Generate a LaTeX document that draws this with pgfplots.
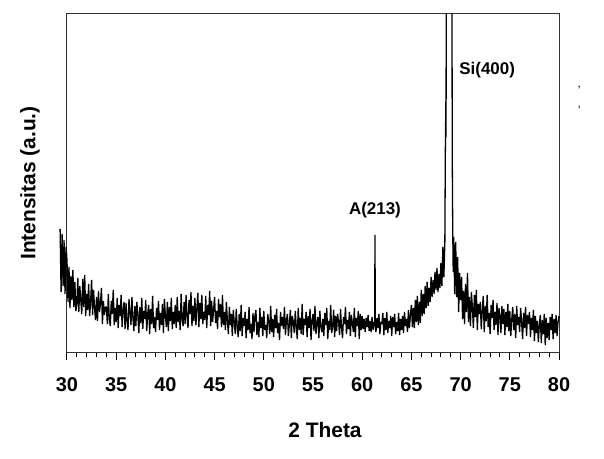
\documentclass[border=0pt]{standalone}
\usepackage{pgfplots}
\pgfplotsset{compat=1.18}
\usepackage{fontspec}
\setmainfont{Liberation Sans}
\usetikzlibrary{calc}
\begin{document}
\begin{tikzpicture}
\begin{axis}[name=ax,
  width=492bp, height=338bp, scale only axis,
  xmin=30, xmax=80, ymin=0, ymax=338,
  xtick={30,35,...,80}, minor x tick num=4,
  xtick pos=left, tick align=outside,
  ytick=\empty,
  major tick length=8bp, minor tick length=5bp,
  every tick/.style={black, line width=1bp},
  axis line style={black!80, line width=1bp},
  clip=false,
  /pgf/number format/assume math mode=true,
  xticklabel style={font=\bfseries\fontsize{20}{20}\selectfont, yshift=-14bp},
  xlabel={2 Theta}, ylabel={Intensitas (a.u.)},
  every axis x label/.style={at={(axis description cs:0.5,0)}, anchor=center, yshift=-78bp, xshift=12bp, font=\bfseries\fontsize{21}{21}\selectfont},
  every axis y label/.style={at={(axis description cs:0,0.5)}, rotate=90, anchor=center, yshift=37bp, font=\bfseries\fontsize{21}{21}\selectfont},
]
\begin{scope}
\clip (axis cs:29,0) rectangle (axis cs:80.5,338);
\addplot[black, line width=1.3bp, line join=bevel] coordinates {
(29.3,123) (29.4,60) (29.5,118) (29.6,66) (29.7,112) (29.8,58) (29.9,105)
(30.0,92) (30.1,50) (30.2,85) (30.3,44) (30.4,76) (30.5,52) (30.6,82) (30.7,45) (30.8,70) (30.9,41)
(31.0,48) (31.1,74) (31.2,40) (31.3,66) (31.4,52) (31.5,38) (31.6,73) (31.7,45) (31.8,77) (31.9,36)
(32.0,58) (32.1,42) (32.2,68) (32.3,36) (32.4,50) (32.5,72) (32.6,37) (32.7,62) (32.8,44) (32.9,32)
(33.0,55) (33.1,31) (33.2,61) (33.3,40) (33.4,48) (33.5,64) (33.6,28) (33.7,51) (33.8,37) (33.9,45)
(34.0,45) (34.1,28) (34.2,58) (34.3,33) (34.4,26) (34.5,51) (34.6,38) (34.7,62) (34.8,27) (34.9,44)
(35.0,30) (35.1,54) (35.2,24) (35.3,47) (35.4,36) (35.5,57) (35.6,25) (35.7,42) (35.8,50) (35.9,23)
(36.0,49) (36.1,31) (36.2,22) (36.3,53) (36.4,40) (36.5,27) (36.6,55) (36.7,34) (36.8,21) (36.9,46)
(37.0,26) (37.1,50) (37.2,37) (37.3,19) (37.4,45) (37.5,29) (37.6,54) (37.7,23) (37.8,41) (37.9,33)
(38.0,52) (38.1,21) (38.2,38) (38.3,47) (38.4,18) (38.5,43) (38.6,28) (38.7,56) (38.8,24) (38.9,35)
(39.0,20) (39.1,44) (39.2,32) (39.3,51) (39.4,22) (39.5,39) (39.6,27) (39.7,48) (39.8,19) (39.9,53)
(40.0,36) (40.1,25) (40.2,50) (40.3,21) (40.4,45) (40.5,31) (40.6,54) (40.7,23) (40.8,40) (40.9,28)
(41.0,47) (41.1,24) (41.2,55) (41.3,30) (41.4,41) (41.5,22) (41.6,58) (41.7,33) (41.8,26) (41.9,50)
(42.0,28) (42.1,57) (42.2,35) (42.3,24) (42.4,52) (42.5,38) (42.6,60) (42.7,26) (42.8,46) (42.9,31)
(43.0,54) (43.1,27) (43.2,44) (43.3,59) (43.4,25) (43.5,49) (43.6,33) (43.7,57) (43.8,28) (43.9,40)
(44.0,32) (44.1,56) (44.2,24) (44.3,47) (44.4,37) (44.5,61) (44.6,26) (44.7,51) (44.8,30) (44.9,43)
(45.0,55) (45.1,29) (45.2,41) (45.3,23) (45.4,53) (45.5,35) (45.6,48) (45.7,25) (45.8,57) (45.9,27)
(46.0,40) (46.1,22) (46.2,50) (46.3,31) (46.4,18) (46.5,45) (46.6,27) (46.7,38) (46.8,16) (46.9,42)
(47.0,30) (47.1,18) (47.2,43) (47.3,25) (47.4,15) (47.5,38) (47.6,21) (47.7,47) (47.8,16) (47.9,34)
(48.0,26) (48.1,40) (48.2,14) (48.3,33) (48.4,22) (48.5,45) (48.6,19) (48.7,28) (48.8,13) (48.9,39)
(49.0,20) (49.1,36) (49.2,42) (49.3,17) (49.4,30) (49.5,15) (49.6,44) (49.7,24) (49.8,35) (49.9,16)
(50.0,41) (50.1,22) (50.2,27) (50.3,14) (50.4,38) (50.5,31) (50.6,18) (50.7,46) (50.8,20) (50.9,33)
(51.0,15) (51.1,37) (51.2,24) (51.3,43) (51.4,19) (51.5,29) (51.6,12) (51.7,40) (51.8,26) (51.9,35)
(52.0,23) (52.1,45) (52.2,17) (52.3,32) (52.4,38) (52.5,16) (52.6,28) (52.7,42) (52.8,14) (52.9,36)
(53.0,30) (53.1,19) (53.2,41) (53.3,25) (53.4,13) (53.5,44) (53.6,22) (53.7,34) (53.8,18) (53.9,48)
(54.0,17) (54.1,33) (54.2,27) (54.3,40) (54.4,15) (54.5,36) (54.6,24) (54.7,43) (54.8,12) (54.9,31)
(55.0,38) (55.1,21) (55.2,46) (55.3,18) (55.4,29) (55.5,35) (55.6,14) (55.7,41) (55.8,25) (55.9,20)
(56.0,33) (56.1,16) (56.2,39) (56.3,27) (56.4,44) (56.5,13) (56.6,31) (56.7,22) (56.8,47) (56.9,19)
(57.0,26) (57.1,42) (57.2,15) (57.3,36) (57.4,21) (57.5,38) (57.6,30) (57.7,17) (57.8,43) (57.9,24)
(58.0,14) (58.1,35) (58.2,28) (58.3,45) (58.4,18) (58.5,32) (58.6,23) (58.7,40) (58.8,16) (58.9,37)
(59.0,29) (59.1,20) (59.2,44) (59.3,15) (59.4,34) (59.5,26) (59.6,41) (59.7,13) (59.8,38) (59.9,22)
(60.0,36) (60.1,23) (60.2,33) (60.3,20) (60.4,34) (60.5,25) (60.6,37) (60.7,21) (60.8,31) (60.9,20)
(61.0,35) (61.1,22) (61.2,30) (61.27,26) (61.3,117) (61.33,24) (61.4,20) (61.5,34) (61.6,24) (61.7,38) (61.8,18) (61.9,30)
(62.0,28) (62.1,39) (62.2,17) (62.3,34) (62.4,22) (62.5,40) (62.6,19) (62.7,31) (62.8,24) (62.9,36)
(63.0,16) (63.1,35) (63.2,25) (63.3,38) (63.4,18) (63.5,30) (63.6,21) (63.7,39) (63.8,17) (63.9,33)
(64.0,22) (64.1,36) (64.2,19) (64.3,40) (64.4,26) (64.5,33) (64.6,20) (64.7,42) (64.8,24) (64.9,37)
(65.0,47) (65.1,25) (65.2,44) (65.3,24) (65.4,52) (65.5,30) (65.6,56) (65.7,27) (65.8,50) (65.9,29)
(66.0,62) (66.1,36) (66.2,58) (66.3,38) (66.4,66) (66.5,44) (66.6,70) (66.7,46) (66.8,64) (66.9,50)
(67.0,75) (67.1,55) (67.2,72) (67.3,58) (67.4,80) (67.5,62) (67.6,84) (67.7,60) (67.8,78) (67.9,64)
(68.0,89) (68.1,66) (68.2,105) (68.3,75) (68.4,110) (68.45,200) (68.5,250) (68.52,215) (68.55,400)
(68.6,700) (68.7,1200) (68.8,1500) (68.9,1400) (69.0,1000) (69.1,500) (69.15,200) (69.2,122)
(69.25,80) (69.3,115) (69.4,58) (69.5,110) (69.6,55) (69.7,95) (69.8,40) (69.9,79)
(70.0,52) (70.1,75) (70.2,33) (70.3,61) (70.4,28) (70.5,68) (70.6,40) (70.7,79) (70.8,30) (70.9,55)
(71.0,26) (71.1,60) (71.2,44) (71.3,24) (71.4,57) (71.5,35) (71.6,62) (71.7,22) (71.8,48) (71.9,38)
(72.0,50) (72.1,23) (72.2,41) (72.3,56) (72.4,20) (72.5,46) (72.6,31) (72.7,57) (72.8,25) (72.9,39)
(73.0,18) (73.1,47) (73.2,34) (73.3,52) (73.4,22) (73.5,40) (73.6,27) (73.7,49) (73.8,17) (73.9,44)
(74.0,36) (74.1,19) (74.2,46) (74.3,28) (74.4,43) (74.5,17) (74.6,40) (74.7,25) (74.8,48) (74.9,21)
(75.0,41) (75.1,16) (75.2,33) (75.3,45) (75.4,22) (75.5,38) (75.6,14) (75.7,46) (75.8,27) (75.9,35)
(76.0,20) (76.1,44) (76.2,30) (76.3,13) (76.4,39) (76.5,24) (76.6,45) (76.7,16) (76.8,37) (76.9,28)
(77.0,40) (77.1,15) (77.2,34) (77.3,22) (77.4,42) (77.5,11) (77.6,36) (77.7,19) (77.8,31) (77.9,10)
(78.0,27) (78.1,37) (78.2,9) (78.3,32) (78.4,18) (78.5,38) (78.6,7) (78.7,34) (78.8,14) (78.9,29)
(79.0,12) (79.1,35) (79.2,22) (79.3,38) (79.4,13) (79.5,33) (79.6,19) (79.7,37) (79.8,16) (79.9,30)
(80.0,36)
};
\end{scope}
\node[font=\bfseries\fontsize{17}{17}\selectfont] at (axis cs:61.3,142) {A(213)};
\node[font=\bfseries\fontsize{17}{17}\selectfont] at (axis cs:72.7,282) {Si(400)};
\node[font=\fontsize{12}{12}\selectfont] at (axis cs:82.06,262) {'};
\node[font=\fontsize{12}{12}\selectfont] at (axis cs:82.06,242) {'};
\end{axis}
\pgfresetboundingbox
\path ($(ax.south west)+(-67bp,-107bp)$) rectangle ($(ax.north east)+(45bp,14bp)$);
\end{tikzpicture}
\end{document}
